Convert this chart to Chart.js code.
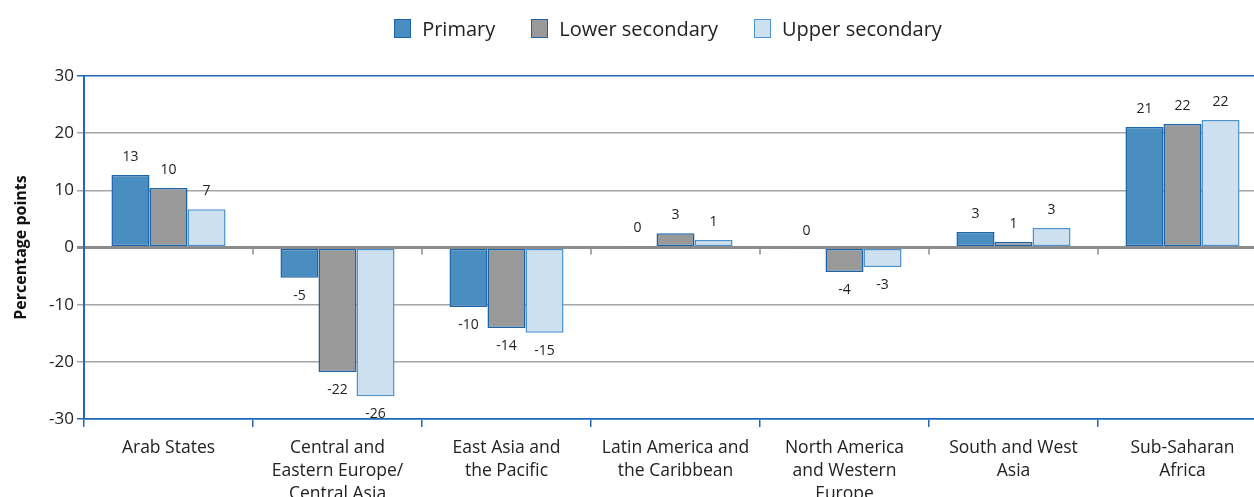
<!DOCTYPE html>
<html>
<head>
<meta charset="utf-8">
<script src="https://cdn.jsdelivr.net/npm/chart.js@4.4.1/dist/chart.umd.min.js"></script>
<style>
  html, body { margin: 0; padding: 0; background: #fff; overflow: hidden; }
  #wrap { position: relative; width: 1267px; height: 540px; }
  #legend {
    position: absolute; left: 0; top: 15px; width: 1336px;
    display: flex; justify-content: center; align-items: center;
    font-family: 'Open Sans', sans-serif; font-size: 20px; color: #222;
  }
  .item { display: flex; align-items: center; margin: 0 18px; }
  .box { width: 17px; height: 19px; margin-right: 11px; box-sizing: border-box; border: 1.5px solid; }
</style>
</head>
<body>
<div id="wrap">
  <canvas id="chart" width="1267" height="540"></canvas>
  <div id="legend"></div>
</div>
<script>
// ── Data ────────────────────────────────────────────────────
const categories = [
  ['Arab States'],
  ['Central and', 'Eastern Europe/', 'Central Asia'],
  ['East Asia and', 'the Pacific'],
  ['Latin America and', 'the Caribbean'],
  ['North America', 'and Western', 'Europe'],
  ['South and West', 'Asia'],
  ['Sub-Saharan', 'Africa']
];
const seriesNames = ['Primary', 'Lower secondary', 'Upper secondary'];
const primary        = [12.7, -5.3, -10.4, 0.2, -0.2, 2.7, 21.1];
const lowerSecondary = [10.4, -21.8, -14.1, 2.5, -4.3, 1.0, 21.6];
const upperSecondary = [6.7, -26.0, -14.9, 1.3, -3.4, 3.4, 22.3];
const yTicks = [-30, -20, -10, 0, 10, 20, 30];

// ── Styling ─────────────────────────────────────────────────
const FONT = "'Open Sans', sans-serif";
const fills   = ['#4a8dc1', '#999999', '#cde0ef'];
const borders = ['#1c64a8', '#1c64a8', '#4e93cc'];
const AXIS_BLUE = '#1f68b2';

// HTML legend
const legendEl = document.getElementById('legend');
seriesNames.forEach((name, i) => {
  const item = document.createElement('div');
  item.className = 'item';
  const box = document.createElement('span');
  box.className = 'box';
  box.style.background = fills[i];
  box.style.borderColor = borders[i];
  item.appendChild(box);
  item.appendChild(document.createTextNode(name));
  legendEl.appendChild(item);
});

// value labels above / below each bar
const valueLabels = {
  id: 'valueLabels',
  afterDatasetsDraw(chart) {
    const ctx = chart.ctx;
    ctx.save();
    ctx.font = '14px ' + FONT;
    ctx.fillStyle = '#222';
    ctx.textAlign = 'center';
    ctx.textBaseline = 'middle';
    chart.data.datasets.forEach((ds, di) => {
      chart.getDatasetMeta(di).data.forEach((el, i) => {
        const v = ds.data[i];
        const txt = String(Math.round(v));
        const y = v >= -0.5 ? el.y - 18 : el.y + 18;
        ctx.fillText(txt, el.x, y);
      });
    });
    ctx.restore();
  }
};

// small tick marks hanging from the zero line at category boundaries
const zeroTicks = {
  id: 'zeroTicks',
  beforeDatasetsDraw(chart) {
    const xs = chart.scales.x, ys = chart.scales.y;
    const y0 = ys.getPixelForValue(0);
    const ctx = chart.ctx;
    ctx.save();
    ctx.strokeStyle = '#8c8c8c';
    ctx.lineWidth = 1.5;
    for (let i = 1; i < categories.length; i++) {
      const x = (xs.getPixelForValue(i - 1) + xs.getPixelForValue(i)) / 2;
      ctx.beginPath();
      ctx.moveTo(x, y0);
      ctx.lineTo(x, y0 + 7);
      ctx.stroke();
    }
    ctx.restore();
  }
};

const gridColor = c => {
  const v = c.tick && c.tick.value;
  if (v === 30 || v === -30) return AXIS_BLUE;
  if (v === 0) return '#8c8c8c';
  return '#a6a6a6';
};

new Chart(document.getElementById('chart'), {
  type: 'bar',
  data: {
    labels: categories,
    datasets: [primary, lowerSecondary, upperSecondary].map((d, i) => ({
      label: seriesNames[i],
      data: d,
      backgroundColor: fills[i],
      borderColor: borders[i],
      borderWidth: 1.5,
      borderSkipped: false,
      barPercentage: 1,
      categoryPercentage: 0.675
    }))
  },
  options: {
    responsive: false,
    animation: false,
    layout: { padding: { top: 76, right: 0, left: 0, bottom: 0 } },
    plugins: {
      legend: { display: false },
      tooltip: { enabled: false }
    },
    scales: {
      x: {
        afterFit(scale) { scale.height = 121; },
        grid: {
          offset: true,
          drawOnChartArea: false,
          drawTicks: true,
          tickLength: 8,
          color: AXIS_BLUE,
          lineWidth: 1.5
        },
        border: { color: AXIS_BLUE, width: 1.5 },
        ticks: {
          color: '#222',
          font: { family: FONT, size: 17.5, lineHeight: 1.32 },
          padding: 9,
          maxRotation: 0,
          autoSkip: false
        }
      },
      y: {
        min: -30,
        max: 30,
        afterFit(scale) { scale.width = 84; },
        afterBuildTicks(scale) { scale.ticks = yTicks.map(v => ({ value: v })); },
        grid: {
          color: gridColor,
          lineWidth: c => (c.tick && c.tick.value === 0 ? 3 : 1.5),
          tickColor: gridColor,
          tickLength: 7
        },
        border: { color: AXIS_BLUE, width: 2 },
        ticks: {
          color: '#222',
          font: { family: FONT, size: 17 },
          padding: 3
        },
        title: {
          display: true,
          text: 'Percentage points',
          color: '#111',
          font: { family: FONT, size: 16, weight: 'bold' },
          padding: { top: 12, bottom: 4 }
        }
      }
    }
  },
  plugins: [zeroTicks, valueLabels]
});
</script>
</body>
</html>
